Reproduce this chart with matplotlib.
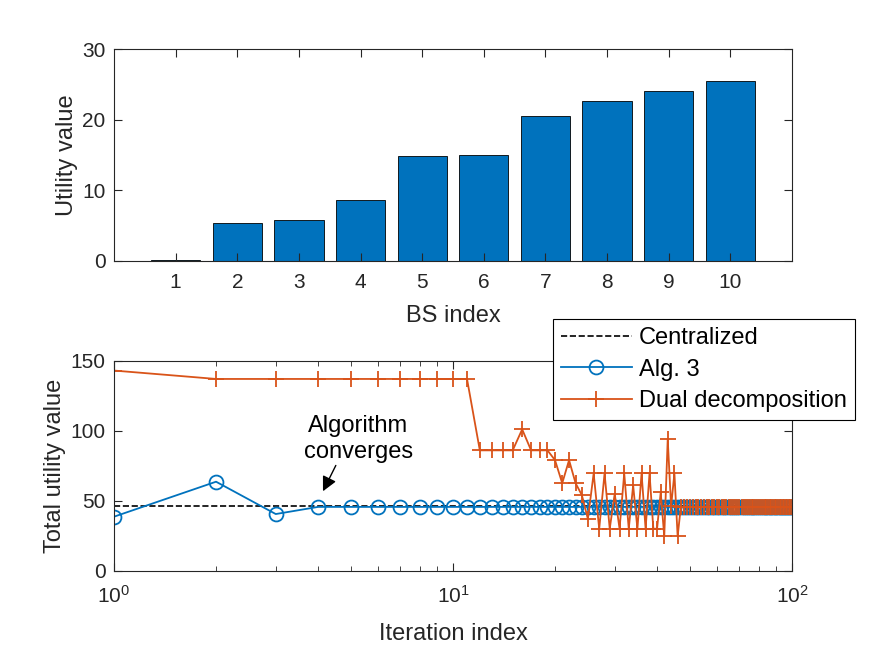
import numpy as np
import matplotlib
matplotlib.use("Agg")
import matplotlib.pyplot as plt

plt.rcParams['font.family'] = ['Liberation Sans', 'DejaVu Sans']
plt.rcParams['mathtext.fontset'] = 'custom'
plt.rcParams['mathtext.rm'] = 'Liberation Sans'

# top panel data
bs_index = [1, 2, 3, 4, 5, 6, 7, 8, 9, 10]
utility = [0.1, 5.3, 5.8, 8.6, 14.85, 15.0, 20.5, 22.7, 24.1, 25.45]

# bottom panel data
iters = list(range(1, 101))
centralized = 46.0
alg3 = [38.6, 63.6, 40.5] + [45.6] * 97
dual = ([143, 137, 137, 137, 137, 137, 137, 137, 137, 137, 137,
         86, 86, 86, 86, 101, 86, 86, 86, 79, 62.5, 79, 62.5, 54, 37,
         69.5, 30, 69.5, 30, 55, 30, 69.5, 30, 61, 30, 69.5, 30, 69.5, 30,
         30, 56, 24.5, 94, 46, 69.5, 24.5] + [45.6] * 54)

blue = '#0072BD'
orange = '#D95319'
axcol = '#262626'

fig = plt.figure(figsize=(8.75, 6.57), dpi=100)
ax1 = fig.add_axes([0.1303, 0.6032, 0.7748, 0.3218])
ax2 = fig.add_axes([0.1303, 0.1313, 0.7748, 0.3196])

for ax in (ax1, ax2):
    for s in ax.spines.values():
        s.set_color(axcol)
        s.set_linewidth(0.8)
    ax.tick_params(which='both', direction='in', top=True, right=True,
                   colors=axcol, labelcolor=axcol, labelsize=15)
    ax.tick_params(which='major', length=6)
    ax.tick_params(which='minor', length=3.5)
    ax.tick_params(axis='y', pad=6)

ax1.bar(bs_index, utility, width=0.8, color=blue, edgecolor='k', linewidth=0.6)
ax1.set_xlim(0, 11)
ax1.set_ylim(0, 30)
ax1.set_xticks(bs_index)
ax1.set_yticks([0, 10, 20, 30])
ax1.tick_params(axis='x', pad=9)
ax1.set_xlabel('BS index', fontsize=17, color=axcol, labelpad=9)
ax1.set_ylabel('Utility value', fontsize=17, color=axcol, labelpad=3)

ax2.plot([1, 100], [centralized, centralized], '--', color='k', lw=1.2,
         label='Centralized')
ax2.plot(iters, alg3, '-o', color=blue, lw=1.3, ms=10, mfc='none', mew=1.3,
         label='Alg. 3')
ax2.plot(iters, dual, '-+', color=orange, lw=1.3, ms=11, mew=1.3,
         label='Dual decomposition')
ax2.set_xscale('log')
ax2.set_xlim(1, 100)
ax2.set_ylim(0, 150)
ax2.set_yticks([0, 50, 100, 150])
ax2.tick_params(axis='x', pad=10)
ax2.set_xlabel('Iteration index', fontsize=17, color=axcol, labelpad=12)
ax2.set_ylabel('Total utility value', fontsize=17, color=axcol, labelpad=3)

ax2.annotate('', xy=(4.1, 55), xytext=(4.55, 77),
             arrowprops=dict(arrowstyle='-|>', color='k', lw=1,
                             mutation_scale=22))
ax2.text(5.25, 94, 'Algorithm\nconverges', fontsize=17, ha='center',
         va='center', linespacing=1.25)

leg = ax2.legend(loc='upper right', bbox_to_anchor=(855 / 875, 1 - 319 / 657),
                 bbox_transform=fig.transFigure, fontsize=17, frameon=True,
                 fancybox=False, framealpha=1, borderpad=0.35,
                 handlelength=3.0, handletextpad=0.3, labelspacing=0.4,
                 borderaxespad=0)
leg.get_frame().set_edgecolor('k')
leg.get_frame().set_linewidth(0.8)

fig.savefig('out.png', dpi=100)
